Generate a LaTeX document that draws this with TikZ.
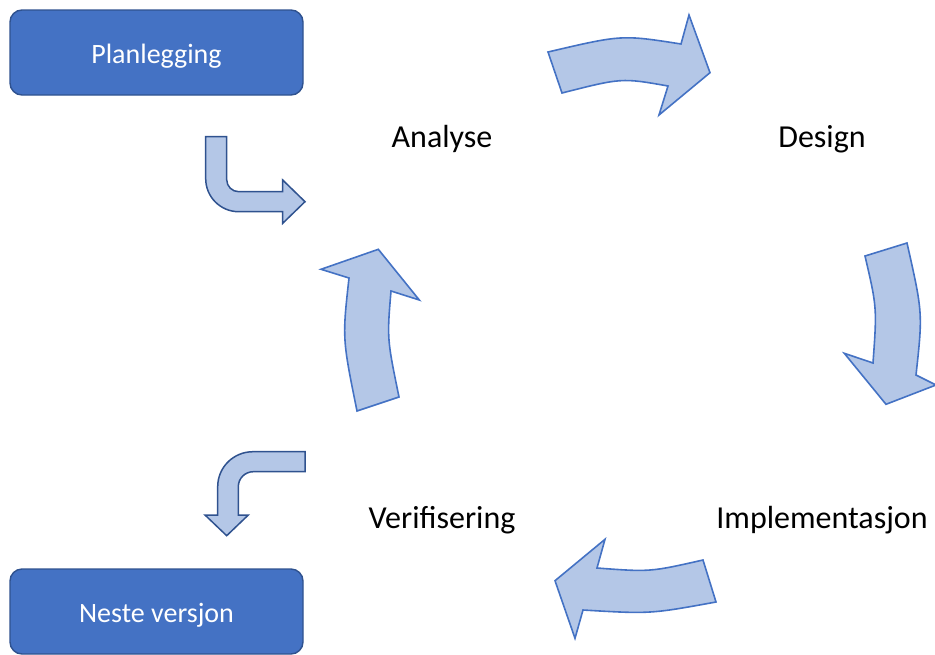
\documentclass[tikz,border=0pt]{standalone}
\usepackage{fontspec}
\setmainfont{Carlito}
\definecolor{boxfill}{HTML}{4472C4}
\definecolor{boxline}{HTML}{2F528F}
\definecolor{arrfill}{HTML}{B4C7E7}
\definecolor{arrline}{HTML}{4472C4}
\begin{document}
\begin{tikzpicture}[x=1pt,y=-1pt,
  phasebox/.style={draw=boxline, fill=boxfill, line width=1.4pt, rounded corners=12pt,
    minimum width=293pt, minimum height=85pt, inner sep=0pt, text=white,
    text height=21pt, text depth=0pt,
    font=\fontsize{28}{32}\selectfont},
  phase/.style={inner sep=0pt, font=\fontsize{32}{38}\selectfont},
  cyclearrow/.style={draw=arrline, fill=arrfill, line width=1.6pt, line join=miter},
  bentarrow/.style={draw=boxline, fill=arrfill, line width=1.5pt, line join=miter}]
\useasboundingbox (0,0) rectangle (935,654);

% start and end boxes
\node[phasebox] (plan) at (156.5,52.5) {Planlegging};
\node[phasebox] (next) at (156.5,611.5) {Neste versjon};

% phase labels
\node[phase] (analyse) at (442,139) {Analyse};
\node[phase] (design) at (822,139) {Design};
\node[phase] (impl) at (822,520) {Implementasjon};
\node[phase] (verif) at (442,520) {Verifisering};

% Analyse -> Design
\draw[cyclearrow] (548,52) .. controls (621.8,34.7) .. (681,44)
  -- (689,15) -- (710,72.7) -- (659,115) -- (668,86)
  .. controls (621.7,77.8) .. (562,93) -- cycle;

% Design -> Implementasjon
\draw[cyclearrow] (865,256) -- (907,243)
  .. controls (922.8,313) .. (916,375)
  -- (936,385) -- (886,404.3) -- (844.3,353.3) -- (873,363)
  .. controls (877,307.5) .. (865,256) -- cycle;

% Implementasjon -> Verifisering
\draw[cyclearrow] (703,560) .. controls (650,572) .. (597,568)
  -- (605,539.3) -- (555,580.7) -- (575,638.3) -- (583,610)
  .. controls (650.2,614) .. (716,602) -- cycle;

% Verifisering -> Analyse
\draw[cyclearrow] (357,411) -- (399,397)
  .. controls (387,338.7) .. (391,291)
  -- (419.3,300) -- (378.3,249.3) -- (321,269.3) -- (349,278)
  .. controls (342.3,338.5) .. (357,411) -- cycle;

% Planlegging -> Analyse
\draw[bentarrow] (205.7,136.7) -- (226.7,136.7) -- (226.7,179.7)
  .. controls (226.7,186.3) and (232.1,191.7) .. (238.7,191.7)
  -- (282.7,191.7) -- (282.7,180) -- (305,201.7) -- (282.7,223.3)
  -- (282.7,211.7) -- (238.7,211.7)
  .. controls (220.5,211.7) and (205.7,196.9) .. (205.7,178.7) -- cycle;

% Verifisering -> Neste versjon
\draw[bentarrow] (305,451.7) -- (305,471.7) -- (253.3,471.7)
  .. controls (245,471.7) and (238.3,478.4) .. (238.3,486.7)
  -- (238.3,515) -- (248.3,515) -- (226.7,535.7) -- (205,515)
  -- (217.7,515) -- (217.7,486.7)
  .. controls (217.7,467.2) and (233.5,451.7) .. (253,451.7) -- cycle;
\end{tikzpicture}
\end{document}
